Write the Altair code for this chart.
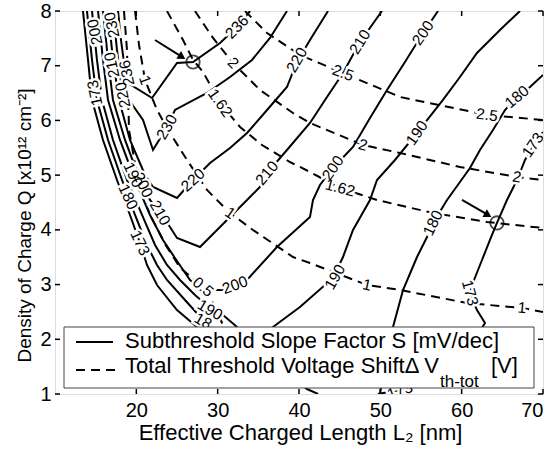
import altair as alt
import pandas as pd

FONT = "Liberation Sans"

# ---- Subthreshold slope factor S contours [mV/dec] (solid) ----
s173a_x = [13.44, 14.06, 14.55, 15.90, 17.62, 19.22, 20.45, 21.31, 22.54, 25.00, 27.46, 31.52, 36.43, 38.89]
s173a_y = [8.0, 7.105, 6.374, 5.643, 4.911, 4.272, 3.760, 3.358, 2.992, 2.535, 2.225, 1.804, 1.402, 1.219]
s173b_x = [70.0, 69.02, 67.79, 66.80, 65.57, 64.34, 63.48, 62.50, 61.52, 61.02, 61.88, 62.87, 60.41, 56.11, 52.42, 49.71]
s173b_y = [5.789, 5.588, 5.277, 4.911, 4.546, 4.126, 3.815, 3.449, 3.084, 2.846, 2.535, 2.298, 1.713, 1.256, 1.073, 1.0]
s180a_x = [13.93, 14.55, 15.16, 16.52, 18.24, 19.84, 21.31, 22.54, 23.77, 25.98, 28.20, 30.29, 35.20, 38.89, 40.98, 42.34]
s180a_y = [8.0, 7.105, 6.374, 5.643, 4.911, 4.272, 3.723, 3.358, 3.084, 2.718, 2.353, 2.078, 1.621, 1.347, 1.091, 1.0]
s180b_x = [70.0, 68.40, 66.80, 65.33, 63.85, 62.25, 61.02, 59.79, 58.20, 56.48, 55.74, 54.51, 52.79, 51.56, 50.57, 49.96]
s180b_y = [6.831, 6.611, 6.429, 6.191, 5.825, 5.460, 5.131, 4.875, 4.546, 4.126, 3.870, 3.504, 2.901, 2.225, 1.621, 1.0]
s190_x = [14.55, 15.16, 15.78, 17.13, 18.85, 20.70, 22.30, 23.77, 25.37, 27.21, 29.06, 30.66, 32.38, 34.59, 36.80,
          40.12, 44.18, 45.41, 46.64, 48.73, 49.59, 51.80, 54.51, 57.70, 59.79, 61.88, 64.71, 67.17]
s190_y = [8.0, 7.105, 6.374, 5.643, 4.911, 4.272, 3.723, 3.358, 3.084, 2.810, 2.572, 2.444, 2.225, 1.987, 2.225,
          2.590, 3.120, 3.504, 3.998, 4.546, 4.911, 5.277, 5.771, 6.374, 6.794, 7.233, 7.653, 8.0]
s200_x = [15.29, 15.90, 16.52, 17.99, 19.84, 21.68, 23.28, 24.75, 26.60, 28.20, 30.53, 32.13, 33.61, 37.29, 41.35,
          41.72, 42.58, 44.18, 46.64, 48.73, 50.82, 53.03, 55.25, 57.09]
s200_y = [8.0, 7.105, 6.374, 5.643, 4.911, 4.272, 3.815, 3.486, 3.084, 2.901, 2.901, 2.974, 3.084, 3.687, 4.235,
          4.546, 4.820, 5.131, 5.515, 6.045, 6.557, 7.068, 7.598, 8.0]
s210_x = [15.90, 16.52, 17.13, 18.61, 20.45, 21.68, 22.91, 24.14, 25.00, 27.83, 30.90, 33.61, 35.20, 36.07, 38.52,
          41.35, 43.20, 45.41, 47.50, 50.20]
s210_y = [8.0, 7.105, 6.374, 5.643, 4.911, 4.546, 4.308, 4.052, 3.851, 3.687, 4.144, 4.546, 4.784, 5.039, 5.460,
          5.953, 6.374, 6.867, 7.434, 8.0]
s220_x = [16.52, 17.13, 17.87, 19.22, 21.07, 22.05, 25.00, 26.97, 29.06, 31.52, 33.61, 36.07, 38.52, 39.75, 41.35, 43.57]
s220_y = [8.0, 7.105, 6.374, 5.643, 5.003, 4.784, 4.583, 4.911, 5.222, 5.496, 5.771, 6.191, 6.611, 7.068, 7.470, 8.0]
s230_x = [17.13, 17.62, 18.24, 20.82, 22.05, 23.77, 24.75, 28.69, 31.52, 34.22, 36.43, 38.52]
s230_y = [8.0, 7.288, 6.557, 6.008, 5.460, 5.880, 6.191, 6.502, 6.794, 7.105, 7.507, 8.0]
s236_x = [17.75, 18.11, 18.61, 18.98, 21.93, 25.00, 26.97, 30.29, 32.38, 33.98]
s236_y = [8.0, 7.470, 6.922, 6.684, 6.410, 7.050, 7.068, 7.416, 7.708, 8.0]

# ---- Total threshold voltage shift contours [V] (dashed) ----
d05_x = [18.48, 18.85, 18.98, 19.10, 20.20, 21.70, 23.60, 25.40, 28.20, 29.70, 30.90]
d05_y = [8.0, 7.288, 6.557, 5.825, 4.911, 4.272, 3.723, 3.305, 2.956, 2.590, 2.170]
d1_x = [19.84, 20.33, 21.07, 22.54, 24.14, 26.23, 28.69, 31.52, 34.34, 39.26, 41.35, 48.36, 52.42, 60.66, 67.42, 70.0]
d1_y = [8.0, 7.379, 6.739, 6.191, 5.771, 5.277, 4.729, 4.308, 3.998, 3.504, 3.394, 2.992, 2.901, 2.663, 2.572, 2.499]
d162_x = [23.77, 25.74, 26.97, 28.20, 30.29, 32.75, 35.45, 38.89, 41.35, 45.04, 49.59, 56.48, 63.11, 70.0]
d162_y = [8.0, 7.470, 7.105, 6.886, 6.319, 5.880, 5.551, 5.240, 5.058, 4.765, 4.546, 4.308, 4.144, 4.034]
d2_x = [27.21, 29.43, 31.89, 35.20, 39.26, 41.35, 47.87, 52.42, 59.79, 66.80, 70.0]
d2_y = [8.0, 7.507, 7.050, 6.557, 6.136, 5.953, 5.551, 5.405, 5.149, 4.966, 4.911]
d25_x = [33.36, 36.07, 40.12, 45.41, 52.42, 63.11, 70.0]
d25_y = [8.0, 7.598, 7.196, 6.867, 6.429, 6.100, 6.008]

# ---- contour labels ----
lab_text = ["236", "230", "220", "220", "210", "210", "200", "200", "200", "190", "190", "190", "180", "180",
            "173", "173", "173", "173", "200", "230", "210", "236", "220", "190", "180", "200", "210", "18", "173",
            "2.5", "2.5", "2", "2", "2", "1.62", "1.62", "1", "1", "1", "1", "0.5"]
lab_x = [32.38, 23.77, 26.97, 39.75, 36.07, 47.50, 44.18, 55.25, 32.13, 54.51, 44.43, 29.06, 56.48, 66.80,
         61.02, 68.77, 14.92, 20.45, 14.92, 17.01, 17.01, 18.85, 18.36, 19.59, 18.98, 20.82, 22.91, 28.20, 52.42,
         45.41, 63.11, 31.89, 47.87, 66.80, 30.29, 45.04, 21.07, 31.52, 48.36, 67.42, 28.20]
lab_y = [7.708, 5.880, 4.911, 7.105, 5.039, 7.434, 5.131, 7.598, 2.992, 5.771, 3.139, 2.535, 4.126, 6.429,
         2.846, 5.551, 6.502, 3.760, 7.617, 7.745, 7.013, 6.867, 6.465, 5.003, 4.601, 4.820, 4.308, 2.330, 1.055,
         6.867, 6.100, 7.050, 5.551, 4.966, 6.319, 4.765, 6.739, 4.308, 2.992, 2.572, 2.956]
lab_angle = [315, 300, 318, 300, 310, 302, 305, 305, 340, 305, 300, 30, 295, 320,
             75, 305, 258, 65, 258, 258, 258, 258, 258, 65, 65, 65, 60, 30, 340,
             20, 8, 45, 15, 10, 55, 15, 70, 35, 12, 5, 40]

# ---- markers ----
circ_x = [26.97, 64.34]
circ_y = [7.068, 4.126]
arrow_x0 = [22.30, 60.04]
arrow_y0 = [7.470, 4.546]
arrow_x1 = [25.61, 63.24]
arrow_y1 = [7.160, 4.272]
arrow_ang = [32, 30]

x_ticks = [20, 30, 40, 50, 60, 70]
y_ticks = [1, 2, 3, 4, 5, 6, 7, 8]

W, H = 488, 383

solid = [("173a", s173a_x, s173a_y), ("173b", s173b_x, s173b_y), ("180a", s180a_x, s180a_y),
         ("180b", s180b_x, s180b_y), ("190", s190_x, s190_y), ("200", s200_x, s200_y),
         ("210", s210_x, s210_y), ("220", s220_x, s220_y), ("230", s230_x, s230_y), ("236", s236_x, s236_y)]
dashed = [("d05", d05_x, d05_y), ("d1", d1_x, d1_y), ("d162", d162_x, d162_y), ("d2", d2_x, d2_y),
          ("d25", d25_x, d25_y)]


def to_df(groups):
    rows = []
    for cid, xs, ys in groups:
        for i, (xv, yv) in enumerate(zip(xs, ys)):
            rows.append({"cid": cid, "x": xv, "y": yv, "o": i})
    return pd.DataFrame(rows)


df_s = to_df(solid)
df_d = to_df(dashed)
df_lab = pd.DataFrame({"t": lab_text, "x": lab_x, "y": lab_y, "a": lab_angle})
df_c = pd.DataFrame({"x": circ_x, "y": circ_y})
df_a = pd.DataFrame({"x": arrow_x0, "y": arrow_y0, "x2": arrow_x1, "y2": arrow_y1, "a": arrow_ang})
df_xt = pd.DataFrame({"v": x_ticks})
df_yt = pd.DataFrame({"v": y_ticks})
one = pd.DataFrame({"k": [0]})

xscale = alt.Scale(domain=[10, 70], nice=False, zero=False)
yscale = alt.Scale(domain=[1, 8], nice=False, zero=False)
xaxis = alt.Axis(values=x_ticks, ticks=False, domain=False, grid=False, labelFontSize=20, labelPadding=6,
                 title="Effective Charged Length L\u2082  [nm]", titleFontSize=22, titleFontWeight="normal",
                 titleX=245, titleY=38, titleAlign="center", titleBaseline="middle",
                 labelColor="black", titleColor="black", labelFont=FONT, titleFont=FONT)
yaxis = alt.Axis(values=y_ticks, ticks=False, domain=False, grid=False, labelFontSize=20, labelPadding=4,
                 title="Density of Charge  Q [x10\u00b9\u00b2 cm\u207b\u00b2]", titleFontSize=19,
                 titleFontWeight="normal", titleX=-31, titleY=214, titleAngle=270, titleAlign="center",
                 titleBaseline="middle", labelColor="black", titleColor="black",
                 labelFont=FONT, titleFont=FONT)
X = alt.X("x:Q", scale=xscale, axis=xaxis)
Y = alt.Y("y:Q", scale=yscale, axis=yaxis)

solid_layer = alt.Chart(df_s).mark_line(color="black", strokeWidth=2, clip=True).encode(
    x=X, y=Y, detail="cid:N", order="o:Q")
dashed_layer = alt.Chart(df_d).mark_line(color="black", strokeWidth=2, strokeDash=[9, 6], clip=True).encode(
    x=X, y=Y, detail="cid:N", order="o:Q")

halo = alt.Chart(df_lab).mark_text(font=FONT, fontSize=15.5, stroke="white", strokeWidth=5, fill="white",
                                   align="center", baseline="middle", clip=True).encode(
    x=X, y=Y, text="t:N", angle=alt.Angle("a:Q", scale=None))
labels = alt.Chart(df_lab).mark_text(font=FONT, fontSize=15.5, color="black",
                                     align="center", baseline="middle", clip=True).encode(
    x=X, y=Y, text="t:N", angle=alt.Angle("a:Q", scale=None))

circles = alt.Chart(df_c).mark_point(shape="circle", size=180, filled=False, color="black",
                                     strokeWidth=1.8).encode(x=X, y=Y)
shafts = alt.Chart(df_a).mark_rule(color="black", strokeWidth=2).encode(x=X, y=Y, x2="x2:Q", y2="y2:Q")
heads = alt.Chart(df_a).mark_point(shape="triangle-right", size=80, filled=True, color="black", opacity=1).encode(
    x=alt.X("x2:Q", scale=xscale, axis=xaxis), y=alt.Y("y2:Q", scale=yscale, axis=yaxis),
    angle=alt.Angle("a:Q", scale=None))

tick_b = alt.Chart(df_xt).mark_rule(color="black", strokeWidth=1.5).encode(
    x=alt.X("v:Q", scale=xscale, axis=xaxis), y=alt.value(H), y2=alt.value(H - 5))
tick_t = alt.Chart(df_xt).mark_rule(color="black", strokeWidth=1.5).encode(
    x=alt.X("v:Q", scale=xscale, axis=xaxis), y=alt.value(0), y2=alt.value(5))
tick_l = alt.Chart(df_yt).mark_rule(color="black", strokeWidth=1.5).encode(
    y=alt.Y("v:Q", scale=yscale, axis=yaxis), x=alt.value(0), x2=alt.value(5))
tick_r = alt.Chart(df_yt).mark_rule(color="black", strokeWidth=1.5).encode(
    y=alt.Y("v:Q", scale=yscale, axis=yaxis), x=alt.value(W), x2=alt.value(W - 5))

# legend box
leg_box = alt.Chart(one).mark_rect(fill="white", stroke="#444444", strokeWidth=1).encode(
    x=alt.value(9), x2=alt.value(479), y=alt.value(316), y2=alt.value(377))
leg_solid = alt.Chart(one).mark_rule(color="black", strokeWidth=2).encode(
    x=alt.value(21), x2=alt.value(58), y=alt.value(331))
leg_dash = alt.Chart(one).mark_rule(color="black", strokeWidth=2, strokeDash=[9, 6]).encode(
    x=alt.value(21), x2=alt.value(60), y=alt.value(359))
leg_t1 = alt.Chart(one).mark_text(font=FONT, fontSize=22, align="left", baseline="middle", color="black",
                                  text="Subthreshold Slope Factor S [mV/dec]").encode(
    x=alt.value(70), y=alt.value(330))
leg_t2 = alt.Chart(one).mark_text(font=FONT, fontSize=22, align="left", baseline="middle", color="black",
                                  text="Total Threshold Voltage Shift\u0394 V").encode(
    x=alt.value(70), y=alt.value(355))
leg_t3 = alt.Chart(one).mark_text(font=FONT, fontSize=17, align="left", baseline="middle", color="black",
                                  text="th-tot").encode(
    x=alt.value(385), y=alt.value(371))
leg_t4 = alt.Chart(one).mark_text(font=FONT, fontSize=22, align="left", baseline="middle", color="black",
                                  text="[V]").encode(
    x=alt.value(436), y=alt.value(355))

chart = alt.layer(
    dashed_layer, solid_layer, halo, labels, circles, shafts, heads,
    leg_box, leg_solid, leg_dash, leg_t1, leg_t2, leg_t3, leg_t4,
    tick_b, tick_t, tick_l, tick_r,
).properties(
    width=W, height=H, autosize=alt.AutoSizeParams(type="none"),
    padding={"left": 55, "top": 11, "right": 13, "bottom": 55},
).configure_view(stroke="black", strokeWidth=2).configure(background="white")

chart.save("out.html", embed_options={"renderer": "svg", "actions": False})
